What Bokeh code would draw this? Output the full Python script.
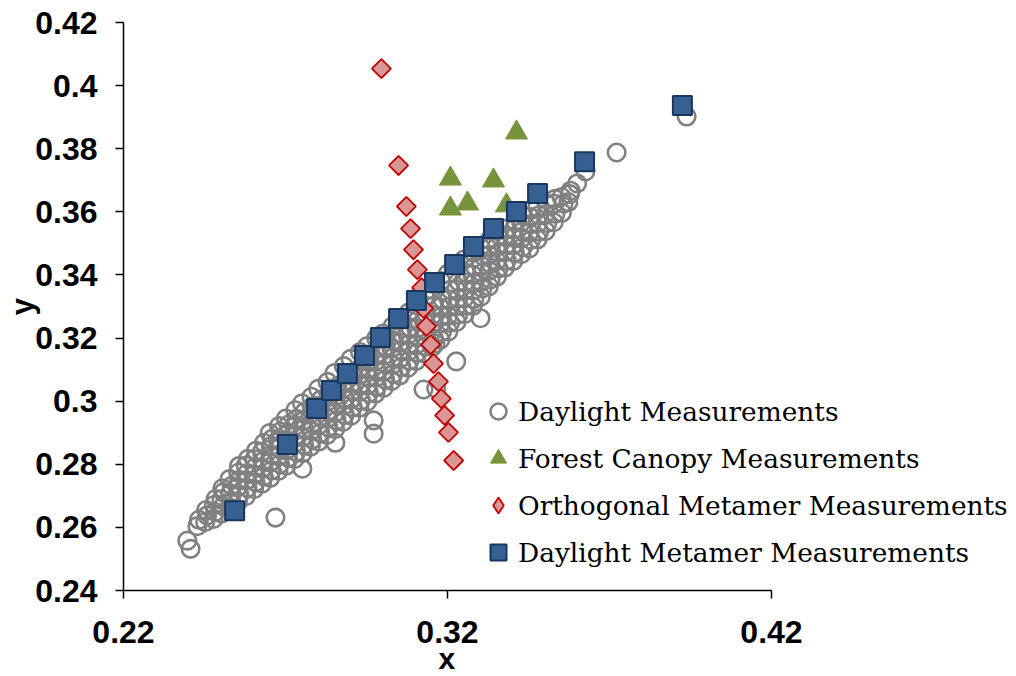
from bokeh.plotting import figure
from bokeh.models import Range1d, Legend, LegendItem, FixedTicker, Title
from bokeh.embed import file_html
from bokeh.resources import INLINE

# ---------------- data ----------------
x_ticks = [0.22, 0.32, 0.42]
x_tick_labels = ["0.22", "0.32", "0.42"]
y_ticks = [0.24, 0.26, 0.28, 0.30, 0.32, 0.34, 0.36, 0.38, 0.40, 0.42]
y_tick_labels = ["0.24", "0.26", "0.28", "0.3", "0.32", "0.34", "0.36", "0.38", "0.4", "0.42"]

series_names = ["Daylight Measurements", "Forest Canopy Measurements",
                "Orthogonal Metamer Measurements", "Daylight Metamer Measurements"]

# Daylight measurements (x, y) -- dense band of open circles
daylight_xy = [
    (0.2428, 0.2604), (0.2433, 0.2624),
    (0.2452, 0.2617), (0.2458, 0.2638), (0.2455, 0.2655),
    (0.2478, 0.2627), (0.2483, 0.2649), (0.2479, 0.2671), (0.2484, 0.2690),
    (0.2503, 0.2644), (0.2507, 0.2667), (0.2502, 0.2689), (0.2508, 0.2711), (0.2505, 0.2724),
    (0.2528, 0.2663), (0.2533, 0.2684), (0.2529, 0.2707), (0.2534, 0.2732), (0.2527, 0.2753),
    (0.2553, 0.2681), (0.2558, 0.2703), (0.2552, 0.2727), (0.2557, 0.2751), (0.2554, 0.2773), (0.2556, 0.2794),
    (0.2578, 0.2699), (0.2583, 0.2725), (0.2579, 0.2749), (0.2582, 0.2772), (0.2577, 0.2796), (0.2584, 0.2817),
    (0.2603, 0.2721), (0.2608, 0.2743), (0.2602, 0.2767), (0.2607, 0.2791), (0.2604, 0.2816), (0.2609, 0.2843),
    (0.2628, 0.2739), (0.2633, 0.2762), (0.2629, 0.2787), (0.2632, 0.2811), (0.2627, 0.2839), (0.2634, 0.2868),
    (0.2653, 0.2757), (0.2658, 0.2781), (0.2652, 0.2806), (0.2657, 0.2829), (0.2654, 0.2857), (0.2659, 0.2881), (0.2651, 0.2899),
    (0.2678, 0.2779), (0.2683, 0.2801), (0.2679, 0.2825), (0.2682, 0.2852), (0.2677, 0.2876), (0.2684, 0.2904), (0.2680, 0.2921),
    (0.2703, 0.2796), (0.2708, 0.2821), (0.2702, 0.2844), (0.2707, 0.2873), (0.2704, 0.2897), (0.2709, 0.2926), (0.2701, 0.2945),
    (0.2728, 0.2816), (0.2733, 0.2839), (0.2729, 0.2867), (0.2732, 0.2891), (0.2727, 0.2919), (0.2734, 0.2944), (0.2730, 0.2971),
    (0.2753, 0.2835), (0.2758, 0.2861), (0.2752, 0.2885), (0.2757, 0.2913), (0.2754, 0.2937), (0.2759, 0.2966), (0.2751, 0.2993),
    (0.2778, 0.2856), (0.2783, 0.2879), (0.2779, 0.2906), (0.2782, 0.2930), (0.2777, 0.2959), (0.2784, 0.2984), (0.2780, 0.3014),
    (0.2803, 0.2872), (0.2808, 0.2899), (0.2802, 0.2923), (0.2807, 0.2951), (0.2804, 0.2976), (0.2809, 0.3005), (0.2801, 0.3039),
    (0.2828, 0.2893), (0.2833, 0.2917), (0.2829, 0.2945), (0.2832, 0.2969), (0.2827, 0.2997), (0.2834, 0.3024), (0.2830, 0.3061),
    (0.2853, 0.2911), (0.2858, 0.2939), (0.2852, 0.2962), (0.2857, 0.2991), (0.2854, 0.3015), (0.2859, 0.3046), (0.2851, 0.3089),
    (0.2878, 0.2934), (0.2883, 0.2957), (0.2879, 0.2985), (0.2882, 0.3009), (0.2877, 0.3037), (0.2884, 0.3064), (0.2880, 0.3111),
    (0.2903, 0.2954), (0.2908, 0.2981), (0.2902, 0.3005), (0.2907, 0.3033), (0.2904, 0.3057), (0.2909, 0.3089), (0.2901, 0.3134),
    (0.2928, 0.2979), (0.2933, 0.3002), (0.2929, 0.3029), (0.2932, 0.3053), (0.2927, 0.3081), (0.2934, 0.3109), (0.2930, 0.3156),
    (0.2953, 0.2999), (0.2958, 0.3026), (0.2952, 0.3049), (0.2957, 0.3077), (0.2954, 0.3101), (0.2959, 0.3131), (0.2951, 0.3174),
    (0.2978, 0.3024), (0.2983, 0.3047), (0.2979, 0.3074), (0.2982, 0.3097), (0.2977, 0.3125), (0.2984, 0.3151), (0.2980, 0.3199),
    (0.3003, 0.3042), (0.3008, 0.3069), (0.3002, 0.3093), (0.3007, 0.3121), (0.3004, 0.3145), (0.3009, 0.3173), (0.3001, 0.3214),
    (0.3028, 0.3064), (0.3033, 0.3087), (0.3029, 0.3115), (0.3032, 0.3139), (0.3027, 0.3167), (0.3034, 0.3192), (0.3030, 0.3237),
    (0.3053, 0.3082), (0.3058, 0.3109), (0.3052, 0.3133), (0.3057, 0.3161), (0.3054, 0.3185), (0.3059, 0.3214), (0.3051, 0.3254),
    (0.3078, 0.3106), (0.3083, 0.3129), (0.3079, 0.3157), (0.3082, 0.3181), (0.3077, 0.3209), (0.3084, 0.3234), (0.3080, 0.3281),
    (0.3103, 0.3127), (0.3108, 0.3154), (0.3102, 0.3177), (0.3107, 0.3205), (0.3104, 0.3229), (0.3109, 0.3259), (0.3101, 0.3304),
    (0.3128, 0.3151), (0.3133, 0.3174), (0.3129, 0.3201), (0.3132, 0.3225), (0.3127, 0.3253), (0.3134, 0.3279), (0.3130, 0.3331),
    (0.3153, 0.3171), (0.3158, 0.3198), (0.3152, 0.3221), (0.3157, 0.3249), (0.3154, 0.3273), (0.3159, 0.3303), (0.3151, 0.3354),
    (0.3178, 0.3195), (0.3183, 0.3219), (0.3179, 0.3246), (0.3182, 0.3269), (0.3177, 0.3297), (0.3184, 0.3323), (0.3180, 0.3381),
    (0.3203, 0.3221), (0.3208, 0.3248), (0.3202, 0.3271), (0.3207, 0.3299), (0.3204, 0.3323), (0.3209, 0.3353), (0.3201, 0.3404),
    (0.3228, 0.3251), (0.3233, 0.3274), (0.3229, 0.3301), (0.3232, 0.3325), (0.3227, 0.3353), (0.3234, 0.3379), (0.3230, 0.3429),
    (0.3253, 0.3276), (0.3258, 0.3303), (0.3252, 0.3326), (0.3257, 0.3353), (0.3254, 0.3377), (0.3259, 0.3406), (0.3251, 0.3449),
    (0.3278, 0.3301), (0.3283, 0.3324), (0.3279, 0.3351), (0.3282, 0.3374), (0.3277, 0.3401), (0.3284, 0.3427), (0.3280, 0.3471),
    (0.3303, 0.3331), (0.3308, 0.3357), (0.3302, 0.3379), (0.3307, 0.3406), (0.3304, 0.3429), (0.3309, 0.3461), (0.3301, 0.3489),
    (0.3328, 0.3364), (0.3333, 0.3386), (0.3329, 0.3413), (0.3332, 0.3436), (0.3327, 0.3463), (0.3334, 0.3489), (0.3330, 0.3511),
    (0.3353, 0.3395), (0.3358, 0.3421), (0.3352, 0.3444), (0.3357, 0.3471), (0.3354, 0.3494), (0.3359, 0.3526),
    (0.3378, 0.3424), (0.3383, 0.3446), (0.3379, 0.3473), (0.3382, 0.3496), (0.3377, 0.3523), (0.3384, 0.3547),
    (0.3403, 0.3444), (0.3408, 0.3471), (0.3402, 0.3494), (0.3407, 0.3521), (0.3404, 0.3544), (0.3409, 0.3571),
    (0.3428, 0.3466), (0.3433, 0.3489), (0.3429, 0.3516), (0.3432, 0.3539), (0.3427, 0.3566), (0.3434, 0.3589),
    (0.3453, 0.3484), (0.3458, 0.3511), (0.3452, 0.3534), (0.3457, 0.3561), (0.3454, 0.3584), (0.3459, 0.3606),
    (0.3478, 0.3513), (0.3483, 0.3537), (0.3479, 0.3564), (0.3482, 0.3589), (0.3477, 0.3614),
    (0.3503, 0.3539), (0.3508, 0.3564), (0.3502, 0.3593), (0.3507, 0.3624),
    (0.3528, 0.3567), (0.3533, 0.3594), (0.3529, 0.3626), (0.3532, 0.3641),
    (0.3553, 0.3597), (0.3558, 0.3626), (0.3552, 0.3647),
    (0.3573, 0.3631), (0.3578, 0.3656),
    # scattered outliers
    (0.2397, 0.2558), (0.2407, 0.2532), (0.2669, 0.2631), (0.2752, 0.2786),
    (0.2972, 0.2939), (0.2972, 0.2897), (0.2854, 0.2868), (0.3302, 0.3263),
    (0.3227, 0.3126), (0.3126, 0.3037), (0.3165, 0.3040), (0.3163, 0.3183),
    (0.3580, 0.3667), (0.3600, 0.3690), (0.3626, 0.3728), (0.3722, 0.3788),
    (0.3938, 0.3902),
]
daylight_x = [pt[0] for pt in daylight_xy]
daylight_y = [pt[1] for pt in daylight_xy]

forest_x = [0.3413, 0.3209, 0.3342, 0.3262, 0.3209, 0.3382]
forest_y = [0.3851, 0.3705, 0.3699, 0.3626, 0.3610, 0.3620]

ortho_x = [0.2996, 0.3049, 0.3073, 0.3086, 0.3095, 0.3107, 0.3120, 0.3126,
           0.3135, 0.3148, 0.3157, 0.3172, 0.3181, 0.3191, 0.3203, 0.3219]
ortho_y = [0.4054, 0.3747, 0.3617, 0.3547, 0.3480, 0.3417, 0.3360, 0.3294,
           0.3237, 0.3179, 0.3119, 0.3062, 0.3008, 0.2955, 0.2901, 0.2812]

dmeta_x = [0.2543, 0.2706, 0.2796, 0.2842, 0.2891, 0.2944, 0.2993, 0.3049, 0.3104,
           0.3160, 0.3222, 0.3280, 0.3342, 0.3413, 0.3478, 0.3623, 0.3925]
dmeta_y = [0.2653, 0.2863, 0.2977, 0.3034, 0.3088, 0.3145, 0.3202, 0.3262, 0.3319,
           0.3376, 0.3433, 0.3490, 0.3547, 0.3601, 0.3658, 0.3759, 0.3937]

# ---------------- figure ----------------
W, H = 1016, 676
LEFT, TOP, BOTTOM = 123, 22, 86
AXIS_PX = 648.0                                  # 0.22 .. 0.42 spans 648 px
x_per_px = (x_ticks[-1] - x_ticks[0]) / AXIS_PX
x_end = x_ticks[0] + (W - LEFT) * x_per_px       # plot area runs on under the legend

p = figure(width=W, height=H, output_backend="svg", toolbar_location=None,
           x_range=Range1d(x_ticks[0], x_end), y_range=Range1d(y_ticks[0], y_ticks[-1]),
           min_border_left=LEFT, min_border_right=0, min_border_top=TOP,
           min_border_bottom=BOTTOM)
p.outline_line_color = None
p.grid.visible = False
p.background_fill_color = "white"
p.border_fill_color = "white"

r_day = p.scatter(daylight_x, daylight_y, marker="circle", size=17.5,
                  fill_color=None, line_color="#808080", line_width=2.6)
r_for = p.scatter(forest_x, forest_y, marker="triangle", size=22,
                  fill_color="#77933C", line_color="#77933C", line_width=1)
r_ort = p.scatter(ortho_x, ortho_y, marker="square", angle=0.785398, size=13.5,
                  fill_color="#D99694", line_color="#C00000", line_width=1.8)
r_dm = p.scatter(dmeta_x, dmeta_y, marker="square", size=19,
                 fill_color="#376092", line_color="#17375E", line_width=2)
# legend swatch for the orthogonal series (the legend does not rotate markers)
r_ort_key = p.scatter([float("nan")], [float("nan")], marker="diamond", size=14,
                      fill_color="#D99694", line_color="#C00000", line_width=1.8)

# axes
for ax in (p.xaxis[0], p.yaxis[0]):
    ax.axis_line_color = "black"
    ax.axis_line_width = 1.5
    ax.major_tick_line_color = "black"
    ax.major_tick_line_width = 1.5
    ax.major_tick_in = 0
    ax.major_tick_out = 8
    ax.minor_tick_line_color = None
    ax.major_label_text_font = "Liberation Sans"
    ax.major_label_text_font_style = "bold"
    ax.major_label_text_color = "black"
    ax.axis_label_text_font = "Liberation Sans"
    ax.axis_label_text_font_style = "bold"
    ax.axis_label_text_color = "black"

p.xaxis.bounds = (x_ticks[0], x_ticks[-1])
p.xaxis.ticker = FixedTicker(ticks=x_ticks)
p.yaxis.ticker = FixedTicker(ticks=y_ticks)
p.xaxis.major_label_overrides = {t: l for t, l in zip(x_ticks, x_tick_labels)}
p.yaxis.major_label_overrides = {t: l for t, l in zip(y_ticks, y_tick_labels)}

p.xaxis.major_label_text_font_size = "32px"
p.yaxis.major_label_text_font_size = "32px"
p.xaxis.major_label_standoff = 22
p.yaxis.major_label_standoff = 18
p.yaxis.axis_label = "y"
p.yaxis.axis_label_text_font_size = "31px"
p.yaxis.axis_label_standoff = -8

# x axis title, centred under the 0.22..0.42 axis span
x_title = Title(text="x", align="left", offset=AXIS_PX / 2 - 9,
                text_font="Liberation Sans", text_font_style="bold",
                text_font_size="30px", text_color="black", standoff=-11)
p.add_layout(x_title, "below")

legend = Legend(items=[
    LegendItem(label=series_names[0], renderers=[r_day]),
    LegendItem(label=series_names[1], renderers=[r_for]),
    LegendItem(label=series_names[2], renderers=[r_ort_key]),
    LegendItem(label=series_names[3], renderers=[r_dm]),
], location=(355, 18))
legend.label_text_font = "DejaVu Serif"
legend.label_text_font_size = "26.4px"
legend.label_text_color = "black"
legend.glyph_width = 40
legend.glyph_height = 40
legend.label_standoff = 0
legend.spacing = 7
legend.padding = 0
legend.margin = 0
legend.border_line_color = None
legend.background_fill_alpha = 0
p.add_layout(legend)

open("out.html", "w").write(file_html(p, INLINE))
